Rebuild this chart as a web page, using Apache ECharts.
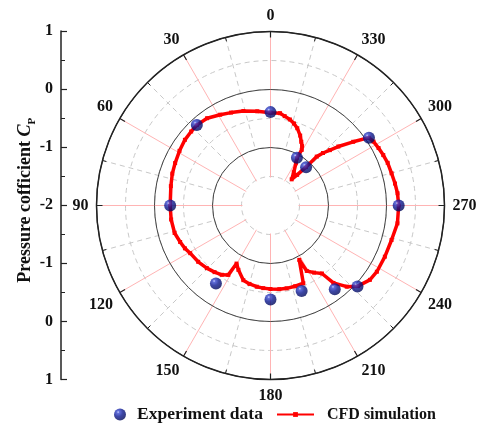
<!DOCTYPE html>
<html>
<head>
<meta charset="utf-8">
<script src="https://cdn.jsdelivr.net/npm/echarts@6/dist/echarts.min.js"></script>
<style>
  html, body { margin: 0; padding: 0; background: #fff; }
  #chart { width: 481px; height: 430px; }
</style>
</head>
<body>
<div id="chart"></div>
<script>
// Wind direction ticks (degrees) and their labels
const angleTickLabels = ['0', '30', '60', '90', '120', '150', '180', '210', '240', '270', '300', '330'];
// Left scale labels, top to bottom (radius runs -2 at the centre to 1 at the rim)
const sideTickLabels = ['1', '0', '-1', '-2', '-1', '0', '1'];

// Measured pressure coefficients
const expAngle = [0, 42.5, 90, 145, 180, 200, 217.5, 227, 270, 304.5, 331, 317];
const expCp    = [-0.39, -0.12, -0.27, -0.36, -0.38, -0.43, -0.18, 0.05, 0.21, 0.06, -1.06, -1.1];

// Simulated pressure coefficients along the perimeter
const cfdAngle = [0, 8, 16, 23, 29, 36, 42.5, 47, 52.5, 59, 66, 72, 79, 90, 98, 106, 112, 116.6, 120.7, 127.9, 134.5, 140, 144.9, 148.7, 149.7, 153.5, 160, 165, 170.4, 175, 180, 186, 191, 197, 202.9, 207.9, 209, 213, 217.1, 219.1, 223.2, 227.3, 233.2, 238.1, 245.9, 254.1, 262, 270, 275.5, 280, 284.9, 290, 294.1, 298, 301.8, 304.6, 307.6, 311, 313, 315, 316.6, 317.3, 319, 321, 325, 329, 331, 330.7, 332, 334.2, 337, 340.9, 344, 347.3, 351, 354.1, 360];
const cfdCp    = [-0.40, -0.36, -0.305, -0.26, -0.21, -0.14, -0.12, -0.13, -0.14, -0.17, -0.20, -0.22, -0.25, -0.27, -0.27, -0.28, -0.32, -0.35, -0.39, -0.42, -0.46, -0.50, -0.54, -0.60, -0.84, -0.76, -0.63, -0.60, -0.58, -0.57, -0.56, -0.55, -0.545, -0.545, -0.545, -0.94, -0.71, -0.62, -0.53, -0.28, -0.08, 0.05, 0.14, 0.16, 0.16, 0.17, 0.21, 0.21, 0.20, 0.18, 0.16, 0.15, 0.13, 0.11, 0.09, 0.06, -0.20, -0.45, -0.60, -0.72, -0.84, -1.10, -1.30, -1.42, -1.30, -1.15, -1.06, -0.90, -0.84, -0.78, -0.69, -0.59, -0.53, -0.48, -0.44, -0.40, -0.40];

const serif = 'Liberation Serif';
const center = [270.5, 205.5];
const R = 174;

const expData = expAngle.map((a, i) => [expCp[i], a]);
const cfdData = cfdAngle.map((a, i) => [cfdCp[i], a]);

const hidden = { axisLine: { show: false }, axisTick: { show: false }, axisLabel: { show: false }, splitLine: { show: false } };
const legendText = { fontFamily: serif, fontWeight: 'bold', fontSize: 16, color: '#111' };

const chart = echarts.init(document.getElementById('chart'));
chart.setOption({
  backgroundColor: '#fff',
  animation: false,
  polar: [
    { center: center, radius: R },          // data, rim, dashed rings
    { center: center, radius: R },          // solid rings
    { center: center, radius: [28, R] },    // red spokes
    { center: center, radius: [58, R] }     // dashed grey spokes
  ],
  angleAxis: [
    {
      polarIndex: 0, type: 'value', min: 0, max: 360, interval: 30,
      startAngle: 90, clockwise: false, z: 3,
      axisLine: { show: true, lineStyle: { color: '#222', width: 1.5 } },
      axisTick: { show: true, inside: true, length: 6, lineStyle: { color: '#222', width: 1.2 } },
      minorTick: { show: true, splitNumber: 2, length: 4, lineStyle: { color: '#222', width: 1 } },
      splitLine: { show: false },
      axisLabel: {
        show: true, margin: 8, color: '#111',
        fontFamily: serif, fontWeight: 'bold', fontSize: 16,
        formatter: v => angleTickLabels[Math.round(v / 30) % 12]
      }
    },
    Object.assign({ polarIndex: 1, type: 'value', min: 0, max: 360, startAngle: 90, clockwise: false }, hidden),
    Object.assign({ polarIndex: 2, type: 'value', min: 0, max: 360, interval: 30, startAngle: 90, clockwise: false }, hidden,
      { splitLine: { show: true, lineStyle: { color: '#ffb4b4', width: 1 } } }),
    Object.assign({ polarIndex: 3, type: 'value', min: 15, max: 375, interval: 30, startAngle: 105, clockwise: false }, hidden,
      { splitLine: { show: true, lineStyle: { color: '#c8c8c8', width: 1, type: [5, 4] } } })
  ],
  radiusAxis: [
    Object.assign({ polarIndex: 0, type: 'value', min: -2, max: 1, interval: 0.5 }, hidden,
      { splitLine: { show: true, lineStyle: { color: '#c8c8c8', width: 1, type: [5, 4] } } }),
    Object.assign({ polarIndex: 1, type: 'value', min: -2, max: 1, interval: 1, z: 1 }, hidden,
      { splitLine: { show: true, lineStyle: { color: '#444', width: 1 } } }),
    Object.assign({ polarIndex: 2, type: 'value', min: 0, max: 1 }, hidden),
    Object.assign({ polarIndex: 3, type: 'value', min: 0, max: 1 }, hidden)
  ],
  grid: { left: 61, top: 31, width: 1, height: 348.5 },
  xAxis: { type: 'value', show: false },
  yAxis: {
    type: 'value', min: -3, max: 3, interval: 1,
    axisLine: { show: true, lineStyle: { color: '#222', width: 1.5 } },
    axisTick: { show: true, inside: true, length: 6, lineStyle: { color: '#222', width: 1.2 } },
    minorTick: { show: true, splitNumber: 2, length: 4, lineStyle: { color: '#222' } },
    splitLine: { show: false },
    axisLabel: {
      margin: 8, color: '#111', fontFamily: serif, fontWeight: 'bold', fontSize: 16,
      formatter: v => sideTickLabels[3 - Math.round(v)]
    },
    name: '{t|Pressure cofficient }{c|C}{s|P}',
    nameLocation: 'middle', nameGap: 23, nameRotate: 90, nameMoveOverlap: false,
    nameTextStyle: {
      rich: {
        t: { fontFamily: serif, fontWeight: 'bold', fontSize: 18, color: '#111', verticalAlign: 'bottom', padding: [0, 0, 4, 10] },
        c: { fontFamily: serif, fontWeight: 'bold', fontStyle: 'italic', fontSize: 18, color: '#111', verticalAlign: 'bottom', padding: [0, 0, 4, 0] },
        s: { fontFamily: serif, fontWeight: 'bold', fontSize: 11, color: '#111', verticalAlign: 'bottom' }
      }
    }
  },
  legend: [
    {
      data: ['Experiment data'], left: 114, top: 405.5, padding: 0, itemWidth: 12, itemHeight: 12,
      textStyle: Object.assign({}, legendText, { fontSize: 17.5, padding: [0, 0, 0, 6] })
    },
    {
      data: ['CFD simulation'], left: 276, top: 406.5, padding: 0, itemWidth: 37, itemHeight: 6,
      textStyle: Object.assign({}, legendText, { padding: [0, 0, 0, 8] })
    }
  ],
  series: [
    {
      name: 'CFD simulation', type: 'line', coordinateSystem: 'polar', polarIndex: 0,
      data: cfdData, z: 4,
      symbol: 'rect', symbolSize: 4, showSymbol: true,
      lineStyle: { color: '#ff0000', width: 3.5 },
      itemStyle: { color: '#ff0000' }
    },
    {
      name: 'Experiment data', type: 'scatter', coordinateSystem: 'polar', polarIndex: 0,
      data: expData, z: 5, symbol: 'circle', symbolSize: 12,
      itemStyle: {
        color: {
          type: 'radial', x: 0.35, y: 0.3, r: 0.75,
          colorStops: [
            { offset: 0, color: '#c0c8ff' },
            { offset: 0.15, color: '#3a4ad0' },
            { offset: 0.5, color: '#0c1890' },
            { offset: 1, color: '#000755' }
          ]
        }
      }
    }
  ]
});
</script>
</body>
</html>
